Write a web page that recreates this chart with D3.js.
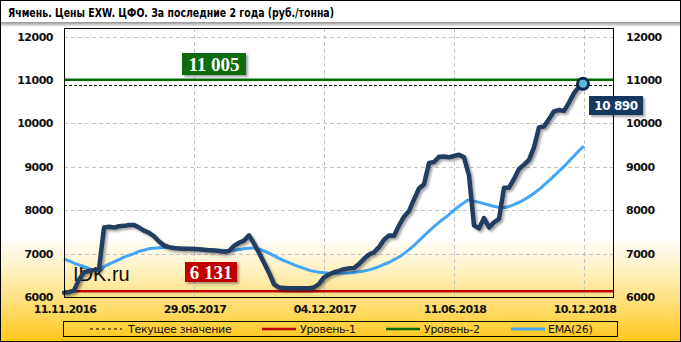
<!DOCTYPE html>
<html><head><meta charset="utf-8">
<script src="https://cdn.jsdelivr.net/npm/d3@7"></script>
<style>html,body{margin:0;padding:0;background:#fff;}svg{display:block;}</style>
</head><body>
<svg id="c" width="681" height="342"></svg>
<script>
const titleText = "Ячмень. Цены EXW. ЦФО. За последние 2 года (руб./тонна)";
const tickIndex = [0, 26, 52, 78, 104];
const tickLabels = ["11.11.2016", "29.05.2017", "04.12.2017", "11.06.2018", "10.12.2018"];
const yTicks = [6000, 7000, 8000, 9000, 10000, 11000, 12000];
const priceValues = [6100,6110,6150,6400,6570,6600,6620,6640,7600,7620,
 7600,7630,7640,7660,7660,7600,7530,7480,7400,7280,
 7190,7150,7130,7120,7110,7110,7105,7100,7090,7080,
 7070,7060,7040,7060,7180,7250,7300,7420,7230,7020,
 6790,6560,6290,6220,6210,6200,6200,6200,6200,6200,
 6220,6300,6450,6520,6570,6600,6640,6660,6670,6760,
 6880,6980,7030,7150,7320,7420,7410,7650,7850,7980,
 8250,8500,8600,9090,9110,9230,9240,9220,9250,9280,
 9220,8800,7650,7580,7820,7600,7720,7800,8520,8520,
 8720,8950,9050,9160,9450,9910,9930,10100,10280,10310,
 10290,10480,10700,10850,10890];
const emaValues = [6880,6830,6780,6740,6700,6660,6630,6640,6700,6760,6810,6860,6920,6960,7000,7050,7080,
 7110,7125,7135,7140,7140,7135,7130,7125,7120,7110,7105,7100,7095,7090,7080,7075,7070,7080,7095,7110,7125,
 7130,7100,7060,7010,6950,6890,6840,6790,6740,6700,6660,6620,6590,6570,6560,6550,6545,6545,6550,6555,
 6565,6580,6600,6625,6660,6700,6750,6800,6860,6920,7000,7090,7190,7300,7410,7520,7620,7720,7810,7900,
 8000,8090,8170,8240,
 8210,8180,8150,8120,8090,8065,8060,8090,8130,8180,8240,8310,8390,8480,8580,8680,8790,8900,9010,9130,9250,9370,9480];
const level1 = 6131, level2 = 11005, currentValue = 10890;
const legendLabels = ["Текущее значение", "Уровень-1", "Уровень-2", "EMA(26)"];

const svg = d3.select("#c");
const W = 681, H = 342;
const L = 64, R = 614, T = 28, B = 297;
const x = d3.scaleLinear().domain([0, 110]).range([L, R]);
const y = d3.scaleLinear().domain([6000, 12200]).range([B, T]);

const defs = svg.append("defs");
const bg = defs.append("linearGradient").attr("id","bg").attr("x1",0).attr("y1",0).attr("x2",0).attr("y2",1);
[[0,"#ffffff"],[0.69,"#ffffff"],[0.77,"#fff4cf"],[0.88,"#ffe07c"],[1,"#ffc619"]].forEach(s=>bg.append("stop").attr("offset",s[0]).attr("stop-color",s[1]));
const sh = defs.append("linearGradient").attr("id","tsh").attr("x1",0).attr("y1",0).attr("x2",0).attr("y2",1);
[[0,"#7a7a7a"],[1,"#ffffff"]].forEach(s=>sh.append("stop").attr("offset",s[0]).attr("stop-color",s[1]));
const f = defs.append("filter").attr("id","ds").attr("x","-10%").attr("y","-10%").attr("width","130%").attr("height","130%");
f.append("feDropShadow").attr("dx",2).attr("dy",2).attr("stdDeviation",1.2).attr("flood-color","#000").attr("flood-opacity",0.35);

svg.append("rect").attr("x",0).attr("y",0).attr("width",W).attr("height",H).attr("fill","url(#bg)");
svg.append("rect").attr("x",1).attr("y",21).attr("width",679).attr("height",6).attr("fill","url(#tsh)");
svg.append("rect").attr("x",1).attr("y",1).attr("width",679).attr("height",21).attr("fill","#fff");
svg.append("text").attr("x",8).attr("y",17).attr("font-family","DejaVu Sans").attr("font-weight","bold")
  .attr("font-size",13).attr("textLength",326).attr("lengthAdjust","spacingAndGlyphs").attr("fill","#000").text(titleText);

const g = svg.append("g");
g.selectAll(".hg").data(yTicks.filter(v=>v>6000)).join("line")
  .attr("x1",L).attr("x2",R).attr("y1",d=>Math.round(y(d))+0.5).attr("y2",d=>Math.round(y(d))+0.5)
  .attr("stroke","#c4c4c4").attr("stroke-dasharray","4,3");
g.selectAll(".vg").data(tickIndex.slice(1)).join("line")
  .attr("x1",d=>Math.round(x(d))+0.5).attr("x2",d=>Math.round(x(d))+0.5).attr("y1",T).attr("y2",B)
  .attr("stroke","#c4c4c4").attr("stroke-dasharray","4,3");

svg.append("text").attr("x",73).attr("y",281).attr("font-family","Liberation Sans, Arial").attr("font-size",20).attr("fill","#111").text("IDK.ru");

svg.append("line").attr("x1",L).attr("x2",R).attr("y1",y(level2)).attr("y2",y(level2)).attr("stroke","#006a00").attr("stroke-width",2.5);
svg.append("line").attr("x1",L).attr("x2",R).attr("y1",y(level1)).attr("y2",y(level1)).attr("stroke","#c00000").attr("stroke-width",2.5);
svg.append("line").attr("x1",L).attr("x2",R).attr("y1",Math.round(y(currentValue))+0.5).attr("y2",Math.round(y(currentValue))+0.5)
  .attr("stroke","#000").attr("stroke-width",1).attr("stroke-dasharray","3,2");

const line = d3.line().x((d,i)=>x(i)).y(d=>y(d)).curve(d3.curveMonotoneX);
svg.append("path").attr("d",line(emaValues)).attr("fill","none").attr("stroke","#42a5f5").attr("stroke-width",3).attr("stroke-linejoin","round");
const pline = d3.line().x((d,i)=>x(i)).y(d=>y(d));
svg.append("path").attr("d",pline(priceValues)).attr("fill","none").attr("stroke","#233d5e").attr("stroke-width",4.5)
  .attr("stroke-linejoin","round").attr("stroke-linecap","round").attr("filter","url(#ds)");
const li = priceValues.length-1;
svg.append("circle").attr("cx",x(li)-1).attr("cy",y(priceValues[li])-1).attr("r",5.5).attr("fill","#5bbcd6").attr("stroke","#0e2a50").attr("stroke-width",3);

svg.append("rect").attr("x",L+0.5).attr("y",T+0.5).attr("width",R-L-1).attr("height",B-T).attr("fill","none").attr("stroke","#000");

const yl = svg.append("g").attr("font-family","DejaVu Sans").attr("font-weight","bold").attr("font-size",11).attr("fill","#111").attr("letter-spacing","-0.5");
yl.selectAll(".l").data(yTicks).join("text").attr("x",53).attr("y",d=>y(d)+4).attr("text-anchor","end").text(d=>d);
yl.selectAll(".r").data(yTicks).join("text").attr("x",626).attr("y",d=>y(d)+4).attr("text-anchor","start").text(d=>d);
svg.append("g").attr("font-family","DejaVu Sans").attr("font-weight","bold").attr("font-size",11).attr("fill","#111").attr("letter-spacing","-0.7")
  .selectAll("text").data(tickIndex).join("text").attr("x",d=>x(d)+1).attr("y",313).attr("text-anchor","middle").text((d,i)=>tickLabels[i]);

function tag(x0,y0,w,h,fill,txt,font,size,ls){
  svg.append("rect").attr("x",x0).attr("y",y0).attr("width",w).attr("height",h).attr("fill",fill).attr("filter","url(#ds)");
  svg.append("text").attr("x",x0+w/2).attr("y",y0+h/2+size*0.35).attr("text-anchor","middle").attr("fill","#fff")
    .attr("font-family",font).attr("font-weight","bold").attr("font-size",size).attr("letter-spacing",ls).text(txt);
}
const fmt = v => d3.format(",")(v).replace(/,/g," ");
tag(182,53,64,22,"#0b6a0b",fmt(level2),"Liberation Serif, Times New Roman",19,0);
tag(185,262,52,20,"#c00000",fmt(level1),"Liberation Serif, Times New Roman",19,0);
tag(589,96,54,19,"#17375e",fmt(currentValue),"DejaVu Sans",12,-0.4);

const lg = svg.append("g");
lg.append("rect").attr("x",63.5).attr("y",321.5).attr("width",554).attr("height",15).attr("fill","none").attr("stroke","#000");
const items = [
  {x1:90,x2:122,tx:128,stroke:"#000",w:1,dash:"3,3"},
  {x1:262,x2:296,tx:300,stroke:"#c00000",w:2.5,dash:null},
  {x1:386,x2:420,tx:424,stroke:"#006a00",w:2.5,dash:null},
  {x1:511,x2:545,tx:548,stroke:"#42a5f5",w:3,dash:null}];
items.forEach((it,i)=>{
  lg.append("line").attr("x1",it.x1).attr("x2",it.x2).attr("y1",329).attr("y2",329).attr("stroke",it.stroke).attr("stroke-width",it.w).attr("stroke-dasharray",it.dash);
  lg.append("text").attr("x",it.tx).attr("y",333).attr("font-family","DejaVu Sans").attr("font-size",11).attr("fill","#111").attr("letter-spacing","-0.3").text(legendLabels[i]);
});
svg.append("rect").attr("x",0.5).attr("y",0.5).attr("width",W-1).attr("height",H-1).attr("fill","none").attr("stroke","#000");
</script>
</body></html>
